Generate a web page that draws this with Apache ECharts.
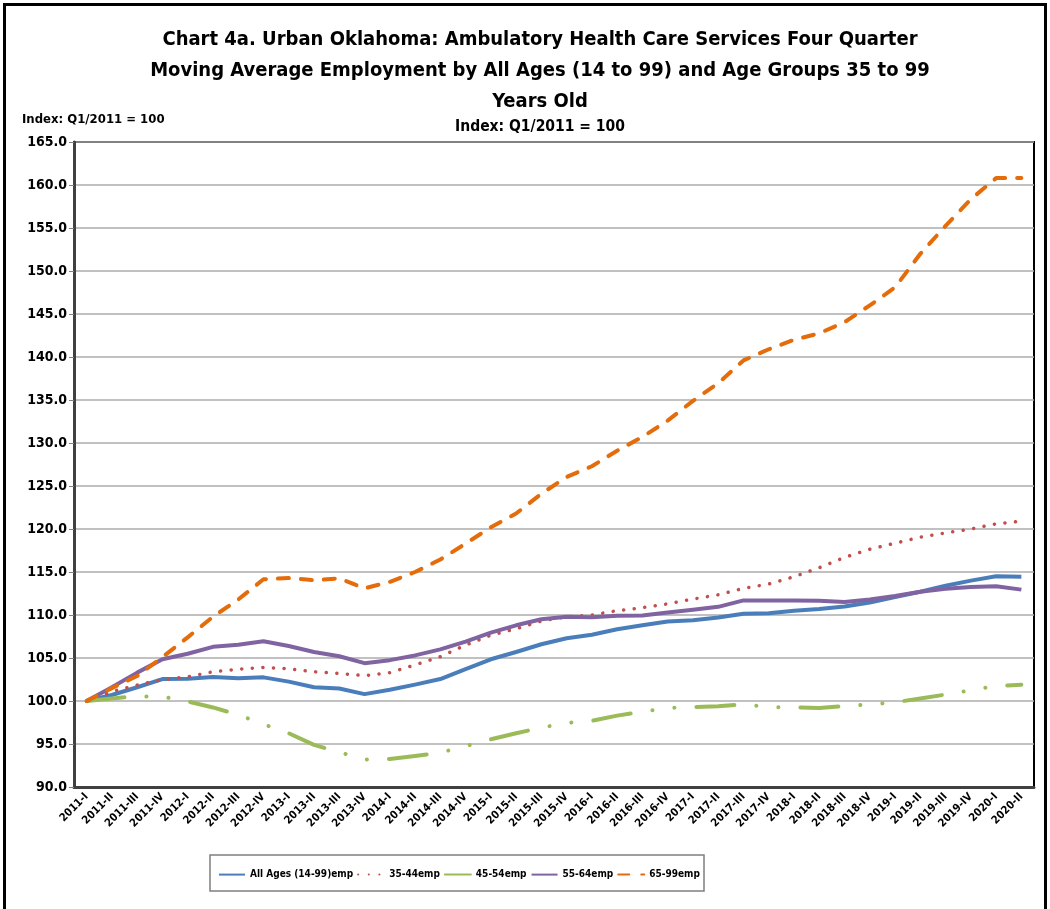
<!DOCTYPE html>
<html>
<head>
<meta charset="utf-8">
<script src="https://cdn.jsdelivr.net/npm/echarts@6/dist/echarts.min.js"></script>
<style>
  html, body { margin: 0; padding: 0; background: #fff; }
  #chart4a { width: 1050px; height: 909px; }
</style>
</head>
<body>
<div id="chart4a"></div>
<script>
/* chart 4a - urban oklahoma ambulatory health care, 4 qtr moving avg */

var quarters = ['2011-I', '2011-II', '2011-III', '2011-IV',
    '2012-I', '2012-II', '2012-III', '2012-IV',
    '2013-I', '2013-II', '2013-III', '2013-IV',
    '2014-I', '2014-II', '2014-III', '2014-IV',
    '2015-I', '2015-II', '2015-III', '2015-IV',
    '2016-I', '2016-II', '2016-III', '2016-IV',
    '2017-I', '2017-II', '2017-III', '2017-IV',
    '2018-I', '2018-II', '2018-III', '2018-IV',
    '2019-I', '2019-II', '2019-III', '2019-IV',
    '2020-I', '2020-II'];

var allAges = [100, 100.7, 101.6, 102.55, 102.6, 102.8, 102.65, 102.75, 102.25, 101.6,
    101.45, 100.8, 101.3, 101.9, 102.55, 103.7, 104.85, 105.7, 106.6, 107.3,
    107.7, 108.35, 108.8, 109.25, 109.4, 109.7, 110.15, 110.2, 110.5, 110.7,
    111.0, 111.45, 112.1, 112.7, 113.4, 114.0, 114.5, 114.45];
var age3544 = [100, 101.1, 101.85, 102.5, 102.8, 103.4, 103.7, 103.9, 103.75, 103.4,
    103.2, 102.95, 103.3, 104.2, 105.15, 106.5, 107.65, 108.4, 109.3, 109.8,
    110.0, 110.5, 110.85, 111.3, 111.85, 112.35, 113.1, 113.6, 114.45, 115.5,
    116.7, 117.65, 118.35, 119.05, 119.55, 120.0, 120.6, 120.9];
var age4554 = [100, 100.3, 100.55, 100.5, 99.95, 99.25, 98.4, 97.3, 96.25, 94.9,
    94.05, 93.2, 93.25, 93.6, 94.0, 94.75, 95.55, 96.25, 96.9, 97.45,
    97.7, 98.3, 98.75, 99.2, 99.3, 99.4, 99.6, 99.3, 99.25, 99.2,
    99.4, 99.6, 99.85, 100.3, 100.75, 101.25, 101.75, 101.9];
var age5564 = [100, 101.6, 103.3, 104.85, 105.5, 106.3, 106.55, 106.95, 106.4, 105.7,
    105.2, 104.4, 104.75, 105.3, 106.0, 106.9, 107.95, 108.8, 109.5, 109.8,
    109.75, 109.9, 109.95, 110.3, 110.6, 110.95, 111.7, 111.7, 111.7, 111.65,
    111.5, 111.8, 112.2, 112.7, 113.05, 113.25, 113.35, 112.95];
var age6599 = [100, 101.5, 102.9, 105.1, 107.4, 109.8, 111.8, 114.15, 114.3, 114.05,
    114.25, 113.1, 113.85, 115.0, 116.45, 118.3, 120.2, 121.8, 124.1, 126.05,
    127.3, 129.1, 130.7, 132.6, 134.9, 136.95, 139.6, 140.9, 142.0, 142.75,
    144.05, 146.0, 148.1, 152.0, 155.25, 158.35, 160.8, 160.8];

var seriesNames = ['All Ages (14-99)emp', '35-44emp', '45-54emp', '55-64emp', '65-99emp'];

var FONT = "'Liberation Sans Narrow', 'DejaVu Sans Condensed', 'Liberation Sans', sans-serif";

var myChart = echarts.init(document.getElementById('chart4a'));

function lineSeries(name, data, color, width, dash) {
    return {
        name: name,
        type: 'line',
        data: data,
        symbol: 'none',
        animation: false,
        lineStyle: {
            color: color,
            width: width,
            type: dash || 'solid',
            cap: dash ? 'round' : 'butt',
            join: 'round'
        },
        itemStyle: { color: color }
    };
}

var option = {
    backgroundColor: '#fff',
    textStyle: { fontFamily: FONT },
    title: [
        {
            text: 'Chart 4a. Urban Oklahoma: Ambulatory Health Care Services Four Quarter\nMoving Average Employment by All Ages (14 to 99) and Age Groups 35 to 99\nYears Old',
            left: 535,
            textAlign: 'center',
            top: 19,
            textStyle: {
                fontFamily: FONT,
                fontSize: 20,
                fontWeight: 'bold',
                color: '#000',
                lineHeight: 31
            }
        },
        {
            text: 'Index: Q1/2011 = 100',
            left: 535,
            textAlign: 'center',
            top: 114,
            textStyle: { fontFamily: FONT, fontSize: 15.5, fontWeight: 'bold', color: '#000' }
        },
        {
            text: 'Index: Q1/2011 = 100',
            left: 17,
            top: 108,
            textStyle: { fontFamily: FONT, fontSize: 13, fontWeight: 'bold', color: '#000' }
        }
    ],
    graphic: [
        {
            type: 'rect',
            shape: { x: 4.5, y: 4.5, width: 1041, height: 1000 },
            style: { fill: 'none', stroke: '#000', lineWidth: 3 },
            silent: true
        },
        {
            type: 'rect',
            shape: { x: 210, y: 855, width: 494, height: 36 },
            style: { fill: 'none', stroke: '#7f7f7f', lineWidth: 1.5 },
            silent: true
        }
    ],
    legend: {
        data: seriesNames,
        left: 213,
        top: 864,
        itemWidth: 26,
        itemHeight: 14,
        itemGap: 4,
        itemStyle: { opacity: 0 },
        textStyle: { fontFamily: FONT, fontSize: 10, fontWeight: 'bold', color: '#000' }
    },
    grid: {
        left: 74,
        right: 16,
        top: 142,
        bottom: 122,
        show: true,
        borderColor: '#000',
        borderWidth: 2
    },
    xAxis: {
        type: 'category',
        data: quarters,
        boundaryGap: true,
        axisLine: { lineStyle: { color: '#404040', width: 3 } },
        axisTick: { interval: 3, length: 5, lineStyle: { color: '#808080', width: 1 } },
        axisLabel: {
            interval: 0,
            rotate: 45,
            margin: 8,
            fontFamily: FONT,
            fontSize: 11,
            fontWeight: 'bold',
            color: '#000'
        }
    },
    yAxis: {
        type: 'value',
        min: 90,
        max: 165,
        interval: 5,
        axisLine: { show: true, lineStyle: { color: '#404040', width: 3 } },
        axisTick: { show: true, length: 5, lineStyle: { color: '#808080', width: 1 } },
        axisLabel: {
            margin: 7,
            fontFamily: FONT,
            fontSize: 14,
            fontWeight: 'bold',
            color: '#000',
            formatter: function (v) { return v.toFixed(1); }
        },
        splitLine: { lineStyle: { color: '#acacac', width: 1.5 } }
    },
    series: [
        lineSeries(seriesNames[0], allAges, '#4A7EBB', 4),
        lineSeries(seriesNames[1], age3544, '#C0504D', 3.5, [0.1, 10.5]),
        lineSeries(seriesNames[2], age4554, '#9BBB59', 4, [38, 22, 0.1, 22, 0.1, 22]),
        lineSeries(seriesNames[3], age5564, '#8064A2', 4),
        lineSeries(seriesNames[4], age6599, '#E46C0A', 4, [11, 12])
    ]
};
myChart.setOption(option);
</script>
</body>
</html>
